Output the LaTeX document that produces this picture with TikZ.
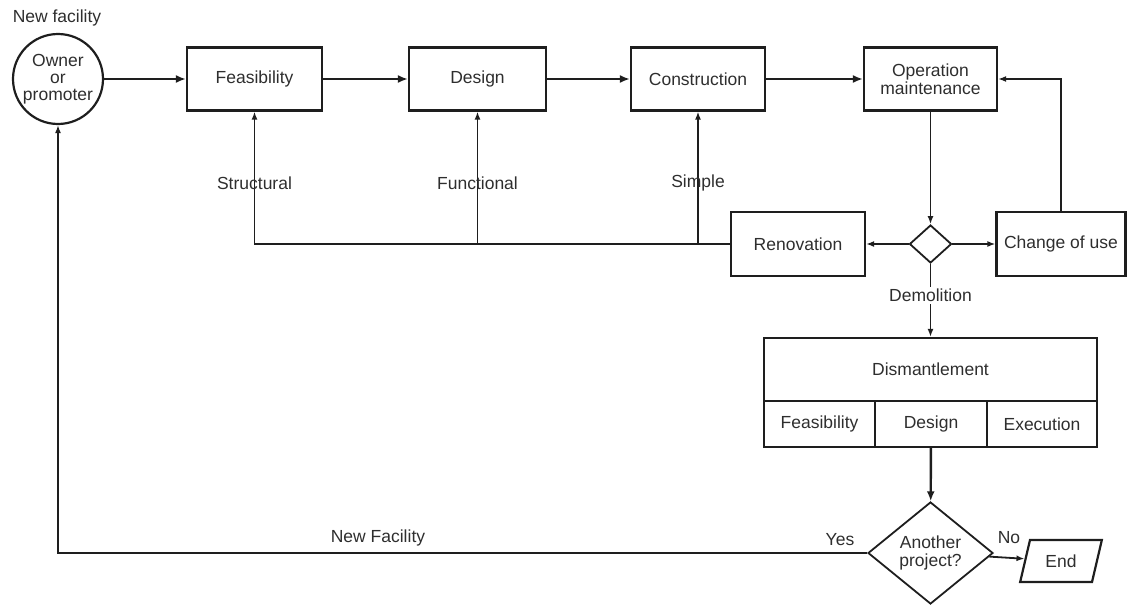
\documentclass[tikz,border=0pt]{standalone}
\usepackage{fontspec}
\setmainfont{Liberation Sans}
\usetikzlibrary{arrows.meta,shapes.geometric}
\definecolor{ink}{HTML}{1E1E1E}
\definecolor{txt}{HTML}{2E2E2E}
\begin{document}
\begin{tikzpicture}[x=1pt,y=-1pt,
  every node/.style={font=\fontsize{17.5}{19}\selectfont,text=txt,inner sep=0pt},
  box/.style={draw=ink,line width=2.2pt,rectangle,minimum height=63pt,align=center},
  cell/.style={draw=ink,line width=2.2pt,rectangle,minimum height=46pt},
  flow/.style={draw=ink,line width=2.8pt,-{Latex[length=10pt,width=8pt]}},
  thin/.style={draw=ink,line width=1.8pt,-{Latex[length=8pt,width=6pt]}},
  lbl/.style={font=\fontsize{17.5}{19}\selectfont}]
\useasboundingbox (0,0) rectangle (1127,605);

% top row: owner and the project stages
\node[draw=ink,line width=2.2pt,circle,minimum size=90pt,align=center] (owner) at (58,79)
  {Owner\\[-2pt]or\\[-2pt]promoter};
\node[lbl] (newtop) at (57,18) {New facility};
\node[box,minimum width=135pt] (feas)   at (254.5,79) {Feasibility};
\node[box,minimum width=137pt] (design) at (477.5,79) {Design};
\node[box,minimum width=134pt] (constr) at (698,79)   {Construction};
\node[box,minimum width=133pt] (opm)    at (930.5,79) {Operation\\[-1pt]maintenance};

\draw[flow] (owner) -- (feas);
\draw[flow] (feas) -- (design);
\draw[flow] (design) -- (constr);
\draw[flow] (constr) -- (opm);

% decision after operation
\node[draw=ink,line width=1.8pt,diamond,minimum width=42pt,minimum height=38pt] (dec) at (930.5,244) {};
\node[box,minimum width=134pt,minimum height=64pt] (renov)  at (798,244)    {Renovation};
\node[box,minimum width=129pt,minimum height=64pt] (change) at (1061,244)   {Change of use};

\draw[thin] (opm) -- (dec);
\draw[thin] (dec) -- (renov);
\draw[thin] (dec) -- (change);
\draw[thin] (change.north) |- (opm.east);

% renovation feedback into the stages
\coordinate (jd) at (design.south |- renov.west);
\coordinate (jc) at (constr.south |- renov.west);
\draw[thin] (renov.west) -| (feas.south);
\draw[thin] (jd) -- (design.south);
\draw[thin] (jc) -- (constr.south);
\node[lbl] at (feas.south |- 0,183) {Structural};
\node[lbl] at (design.south |- 0,183) {Functional};
\node[lbl] at (constr.south |- 0,183) {Simple};

% dismantlement block
\node[box,minimum width=333pt,minimum height=63pt] (dism) at (930.5,369.5) {Dismantlement};
\node[cell,minimum width=111pt] (dfeas) at (819.5,424) {Feasibility};
\node[cell,minimum width=112pt] (ddes)  at (931,424)   {Design};
\node[cell,minimum width=110pt] (dexe)  at (1042,424)  {\raisebox{-5pt}{Execution}};

\draw[thin] (dec) -- node[fill=white,inner sep=2pt,pos=0.43] {Demolition} (dism);

% final decision
\node[draw=ink,line width=1.8pt,diamond,minimum width=125pt,minimum height=102pt,align=center] (again) at (930.5,553)
  {Another\\[-1pt]project?};
\node[draw=ink,line width=2.2pt,trapezium,trapezium left angle=69,trapezium right angle=111,
  trapezium stretches=true,minimum width=82pt,minimum height=42pt] (endn) at (1061,561) {End};

\draw[flow,line width=2.4pt] (ddes) -- (again);
\draw[thin] (again) -- (endn);
\draw[thin] (again.west) -| (owner.south);

\node[lbl] at (840,540) {Yes};
\node[lbl] at (1009,538) {No};
\node[lbl] at (378,538) {New Facility};
\end{tikzpicture}
\end{document}
